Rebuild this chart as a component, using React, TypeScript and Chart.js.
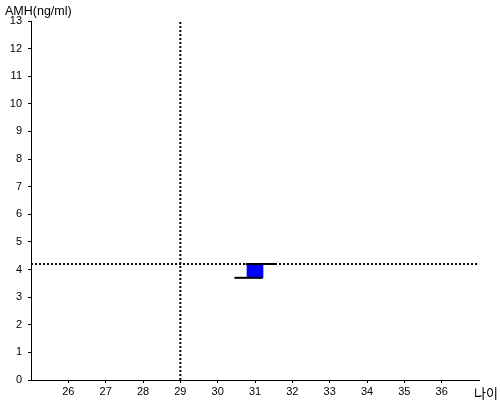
import React, { useEffect, useRef } from "react";
import { Chart, registerables } from "chart.js";

Chart.register(...registerables);

// Axis ranges / ticks
const xRange = [25, 37];
const yRange = [0, 13];
const xTickLabels = [26, 27, 28, 29, 30, 31, 32, 33, 34, 35, 36];
const yTickLabels = [0, 1, 2, 3, 4, 5, 6, 7, 8, 9, 10, 11, 12, 13];

// Reference lines
const refAge = 29;
const refAmh = 4.2;

// Box (age 31, AMH range)
const boxAge = 31;
const boxRange = [3.7, 4.2];
const topLineX = [30.75, 31.55];
const bottomLineX = [30.45, 31.2];

const yTitle = "AMH(ng/ml)";
const xTitle = "나이";

export default function App() {
  const ref = useRef<HTMLCanvasElement | null>(null);

  useEffect(() => {
    if (!ref.current) return;
    const textPlugin = {
      id: "axisTitles",
      afterDraw(chart: any) {
        const ctx = chart.ctx;
        ctx.save();
        ctx.fillStyle = "#000";
        ctx.textBaseline = "alphabetic";
        ctx.textAlign = "left";
        ctx.font = "12.5px 'Liberation Sans', Arial, sans-serif";
        ctx.fillText(yTitle, 5, 15);
        ctx.font = "13px 'Noto Sans CJK KR', sans-serif";
        ctx.fillText(xTitle, 474, 398);
        ctx.restore();
      },
    };

    const chart = new Chart(ref.current, {
      type: "bar",
      data: {
        datasets: [
          {
            type: "line",
            data: [
              { x: xRange[0], y: refAmh },
              { x: xRange[1], y: refAmh },
            ],
            borderColor: "#000",
            borderWidth: 2,
            borderDash: [2, 2],
            pointRadius: 0,
            order: 3,
          } as any,
          {
            type: "line",
            data: [
              { x: refAge, y: yRange[0] },
              { x: refAge, y: yRange[1] },
            ],
            borderColor: "#000",
            borderWidth: 2,
            borderDash: [2, 2],
            pointRadius: 0,
            order: 3,
          } as any,
          {
            type: "bar",
            data: [{ x: boxAge, y: boxRange }],
            backgroundColor: "#0000ff",
            borderWidth: 0,
            barThickness: 16,
            order: 2,
          } as any,
          {
            type: "line",
            data: [
              { x: topLineX[0], y: boxRange[1] },
              { x: topLineX[1], y: boxRange[1] },
            ],
            borderColor: "#000",
            borderWidth: 2,
            pointRadius: 0,
            order: 1,
          } as any,
          {
            type: "line",
            data: [
              { x: bottomLineX[0], y: boxRange[0] },
              { x: bottomLineX[1], y: boxRange[0] },
            ],
            borderColor: "#000",
            borderWidth: 2,
            pointRadius: 0,
            order: 1,
          } as any,
        ],
      },
      options: {
        responsive: false,
        animation: false,
        layout: { padding: { left: 0, top: 21, right: 21, bottom: 0 } },
        plugins: {
          legend: { display: false },
          tooltip: { enabled: false },
          title: { display: false },
        },
        scales: {
          x: {
            type: "linear",
            offset: false,
            min: xRange[0],
            max: xRange[1],
            afterFit: (s: any) => {
              s.height = 20;
            },
            ticks: {
              stepSize: 1,
              autoSkip: false,
              maxRotation: 0,
              padding: 2,
              color: "#000",
              font: { family: "'Liberation Sans', Arial, sans-serif", size: 11 },
              callback: (v: any) => (xTickLabels.includes(Number(v)) ? String(v) : ""),
            },
            grid: {
              display: true,
              drawOnChartArea: false,
              drawTicks: true,
              tickLength: 3,
              offset: false,
              color: (c: any) => (xTickLabels.includes(Number(c.tick && c.tick.value)) ? "#000" : "rgba(0,0,0,0)"),
            },
            border: { display: true, color: "#000", width: 1 },
          },
          y: {
            type: "linear",
            min: yRange[0],
            max: yRange[1],
            afterFit: (s: any) => {
              s.width = 31;
            },
            ticks: {
              stepSize: 1,
              autoSkip: false,
              padding: 6,
              color: "#000",
              font: { family: "'Liberation Sans', Arial, sans-serif", size: 11 },
              callback: (v: any) => (yTickLabels.includes(Number(v)) ? String(v) : ""),
            },
            grid: {
              display: true,
              drawOnChartArea: false,
              drawTicks: true,
              tickLength: 3,
              color: "#000",
            },
            border: { display: true, color: "#000", width: 1 },
          },
        },
      },
      plugins: [textPlugin],
    } as any);
    return () => chart.destroy();
  }, []);

  return (
    <div style={{ position: "fixed", left: 0, top: 0, width: 500, height: 400, background: "#fff" }}>
      <canvas ref={ref} width={500} height={400} />
    </div>
  );
}
